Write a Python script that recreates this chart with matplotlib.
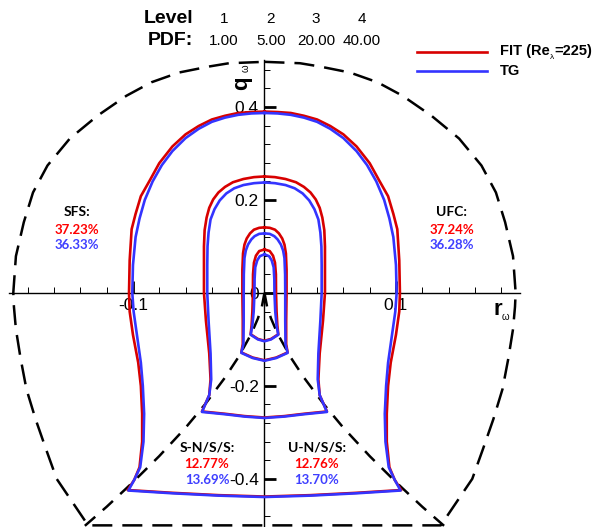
import numpy as np
import matplotlib
matplotlib.use("Agg")
import matplotlib.pyplot as plt
from matplotlib.ticker import FixedLocator, FixedFormatter
from matplotlib.transforms import offset_copy

# right halves of the iso-PDF contours (r_w, q_w), top -> bottom; mirrored below
r1_red = [0, 0.010, 0.020, 0.030, 0.040, 0.050, 0.060, 0.070, 0.080, 0.087, 0.094, 0.098, 0.101,
          0.1025, 0.103, 0.1025, 0.100, 0.096, 0.094, 0.093, 0.093, 0.095, 0.099, 0.104, 0.070, 0.035, 0]
q1_red = [0.390, 0.389, 0.387, 0.381, 0.373, 0.359, 0.341, 0.315, 0.279, 0.243, 0.208, 0.170, 0.137,
          0.070, 0.0, -0.040, -0.090, -0.150, -0.200, -0.260, -0.320, -0.375, -0.402, -0.424, -0.430,
          -0.435, -0.438]
r1_blue = [0, 0.010, 0.020, 0.030, 0.040, 0.050, 0.060, 0.070, 0.078, 0.085, 0.091, 0.095, 0.098,
           0.100, 0.1005, 0.0995, 0.097, 0.094, 0.0925, 0.0915, 0.092, 0.0945, 0.099, 0.1035, 0.070,
           0.035, 0]
q1_blue = [0.387, 0.386, 0.383, 0.377, 0.368, 0.353, 0.333, 0.305, 0.275, 0.240, 0.200, 0.160, 0.120,
           0.060, 0.0, -0.040, -0.090, -0.150, -0.200, -0.260, -0.320, -0.375, -0.402, -0.425, -0.431,
           -0.436, -0.439]

r2_red = [0, 0.008, 0.016, 0.024, 0.030, 0.035, 0.039, 0.042, 0.044, 0.0455, 0.046, 0.046, 0.046,
          0.0445, 0.042, 0.041, 0.042, 0.0475, 0.030, 0.015, 0]
q2_red = [0.2505, 0.249, 0.245, 0.238, 0.228, 0.216, 0.201, 0.183, 0.162, 0.135, 0.100, 0.066, 0.0,
          -0.060, -0.130, -0.186, -0.220, -0.255, -0.260, -0.265, -0.268]
r2_blue = [0, 0.008, 0.016, 0.023, 0.029, 0.034, 0.038, 0.041, 0.0425, 0.0433, 0.0435, 0.0435,
           0.0425, 0.041, 0.0405, 0.042, 0.0475, 0.030, 0.015, 0]
q2_blue = [0.2376, 0.236, 0.232, 0.225, 0.214, 0.199, 0.180, 0.158, 0.130, 0.100, 0.060, 0.0,
           -0.060, -0.130, -0.186, -0.220, -0.256, -0.261, -0.266, -0.269]

r3_red = [0, 0.004, 0.008, 0.011, 0.0135, 0.0152, 0.0163, 0.0168, 0.0168, 0.0165, 0.0165, 0.0176,
          0.009, 0]
q3_red = [0.141, 0.140, 0.136, 0.128, 0.117, 0.104, 0.085, 0.050, 0.0, -0.060, -0.110, -0.128,
          -0.139, -0.145]
r3_blue = [0, 0.004, 0.0075, 0.010, 0.0125, 0.0142, 0.0152, 0.0157, 0.0158, 0.0158, 0.016, 0.0176,
           0.009, 0]
q3_blue = [0.128, 0.127, 0.122, 0.115, 0.104, 0.091, 0.075, 0.040, 0.0, -0.060, -0.110, -0.129,
           -0.140, -0.146]

r4_red = [0, 0.004, 0.0065, 0.008, 0.0087, 0.0088, 0.0092, 0.0098, 0.0105, 0.005, 0]
q4_red = [0.0935, 0.090, 0.080, 0.065, 0.040, 0.0, -0.040, -0.070, -0.089, -0.099, -0.103]
r4_blue = [0, 0.0035, 0.0055, 0.007, 0.0075, 0.0076, 0.0082, 0.0092, 0.0105, 0.005, 0]
q4_blue = [0.083, 0.079, 0.070, 0.055, 0.030, 0.0, -0.040, -0.070, -0.090, -0.100, -0.104]

# outer bound of the invariant map (right half) and the Vieillefosse-type line
bound_r = [0, 0.027, 0.042, 0.065, 0.086, 0.105, 0.127, 0.148, 0.165, 0.176, 0.183, 0.189, 0.191,
           0.1905, 0.189, 0.1855, 0.181, 0.174, 0.166, 0.158, 0.147, 0.136, 0.134]
bound_q = [0.497, 0.494, 0.487, 0.474, 0.453, 0.424, 0.381, 0.332, 0.274, 0.216, 0.152, 0.079, 0.0,
           -0.030, -0.078, -0.140, -0.207, -0.272, -0.337, -0.400, -0.446, -0.492, -0.500]
vline_r = [0, 0.002, 0.005, 0.01, 0.02, 0.03, 0.045, 0.06, 0.08, 0.1, 0.12, 0.137]
vline_q = [0, -0.030, -0.055, -0.088, -0.139, -0.182, -0.239, -0.290, -0.351, -0.407, -0.460, -0.502]

levels = ["1", "2", "3", "4"]
pdf_levels = ["1.00", "5.00", "20.00", "40.00"]

regions = ["SFS:", "UFC:", "S-N/S/S:", "U-N/S/S:"]
frac_fit = ["37.23%", "37.24%", "12.77%", "12.76%"]
frac_tg = ["36.33%", "36.28%", "13.69%", "13.70%"]

RED = "#d80000"
BLUE = "#3434ff"
SANS = "Liberation Sans"


def closed(r, q):
    r = np.asarray(r)
    q = np.asarray(q)
    return np.concatenate([r, -r[::-1]]), np.concatenate([q, q[::-1]])


fig = plt.figure(figsize=(6.01, 5.27), dpi=100)
ax = fig.add_axes([0, 0, 1, 1])
ax.set_xlim(-0.2011, 0.2559)
ax.set_ylim(-0.5035, 0.6300)
ax.patch.set_visible(False)

# axes through the origin, tecplot style
for s in ["top", "right"]:
    ax.spines[s].set_visible(False)
ax.spines["left"].set_position(("data", 0))
ax.spines["bottom"].set_position(("data", 0))
ax.spines["bottom"].set_bounds(-0.1945, 0.1945)
ax.spines["left"].set_bounds(-0.51, 0.5)
for s in ["left", "bottom"]:
    ax.spines[s].set_linewidth(1.0)

ax.xaxis.set_major_locator(FixedLocator([-0.1, 0.1]))
ax.xaxis.set_major_formatter(FixedFormatter(["-0.1", "0.1"]))
ax.xaxis.set_minor_locator(FixedLocator([x for x in np.round(np.arange(-0.18, 0.181, 0.02), 2)
                                         if abs(x) not in (0.1, 0.0)]))
ax.yaxis.set_major_locator(FixedLocator([-0.4, -0.2, 0, 0.2, 0.4]))
ax.yaxis.set_major_formatter(FixedFormatter(["-0.4", "-0.2", "0", "0.2", "0.4"]))
ax.yaxis.set_minor_locator(FixedLocator([y for y in np.round(np.arange(-0.48, 0.481, 0.04), 2)
                                         if abs(y) not in (0.2, 0.4, 0.0)]))
ax.tick_params(which="major", direction="in", length=8.5, width=2.0, labelsize=12.5, pad=4)
ax.tick_params(which="minor", direction="in", length=4.5, width=0.7)
for lab in ax.get_xticklabels() + ax.get_yticklabels():
    lab.set_fontfamily(SANS)

# dashed boundaries
br, bq = closed(bound_r, bound_q)
ax.plot(br, bq, color="black", lw=1.8, dashes=(8, 4), zorder=2)
for sign in (1, -1):
    ax.plot(sign * np.asarray(vline_r), vline_q, color="black", lw=1.8, dashes=(5.5, 4), zorder=2)

# iso-PDF contours
pairs = [(r1_red, q1_red, r1_blue, q1_blue), (r2_red, q2_red, r2_blue, q2_blue),
         (r3_red, q3_red, r3_blue, q3_blue), (r4_red, q4_red, r4_blue, q4_blue)]
for rr, qr, rb, qb in pairs:
    x, y = closed(rr, qr)
    ax.plot(x, y, color=RED, lw=1.9, zorder=3, solid_joinstyle="round")
    x, y = closed(rb, qb)
    ax.plot(x, y, color=BLUE, lw=1.9, zorder=4, solid_joinstyle="round")

# axis titles
ax.text(0.1741, -0.0484, "r", fontsize=16, fontweight="bold", family=SANS, ha="left", va="baseline")
ax.text(0.1829, -0.0527, "\u03c9", fontsize=7, family=SANS, ha="center", va="center")
ax.text(-0.0171, 0.4505, "q", fontsize=16, fontweight="bold", family=SANS, rotation=90,
        ha="center", va="center")
ax.text(-0.0141, 0.4828, "\u03c9", fontsize=7, family=SANS, rotation=90, ha="center", va="center")

# contour level header
ax.text(-0.0544, 0.5796, "Level", fontsize=14, fontweight="bold", family=SANS, ha="right", va="baseline")
ax.text(-0.0544, 0.5333, "PDF:", fontsize=14, fontweight="bold", family=SANS, ha="right", va="baseline")
for xr, lv, pdf in zip([-0.0308, 0.0049, 0.0392, 0.0741], levels, pdf_levels):
    ax.text(xr, 0.5796, lv, fontsize=11, family=SANS, ha="center", va="baseline")
    ax.text(xr, 0.5333, pdf, fontsize=11, family=SANS, ha="center", va="baseline")

# legend: "FIT (Re" + small lambda subscript + "=225)"
ax.plot([0.116, 0.1692], [0.5172, 0.5172], color=RED, lw=1.9)
ax.plot([0.116, 0.1692], [0.4763, 0.4763], color=BLUE, lw=1.9)
t1 = ax.text(0.179, 0.5115, "FIT (Re", fontsize=10.5, fontweight="bold", family=SANS,
             ha="left", va="baseline")
fig.canvas.draw()
w1 = t1.get_window_extent().width * 72 / fig.dpi
t2 = ax.text(0.179, 0.5115, "\u03bb", fontsize=6, family=SANS, ha="left", va="baseline",
             transform=offset_copy(ax.transData, fig=fig, x=w1 + 0.3, y=-3.0, units="points"))
fig.canvas.draw()
w2 = t2.get_window_extent().width * 72 / fig.dpi
ax.text(0.179, 0.5115, "=225)", fontsize=10.5, fontweight="bold", family=SANS, ha="left",
        va="baseline",
        transform=offset_copy(ax.transData, fig=fig, x=w1 + w2 + 0.6, y=0, units="points"))
ax.text(0.179, 0.4763, "TG", fontsize=10.5, fontweight="bold", family=SANS, ha="left", va="center")

# volume fractions of each topology region
label_pos = [(-0.1426, 0.173), (0.1426, 0.173), (-0.0437, -0.332), (0.0399, -0.332)]
for (xr, yq), name, f1, f2 in zip(label_pos, regions, frac_fit, frac_tg):
    ax.text(xr, yq, name, fontsize=10, fontweight="bold", family="Lato", ha="center", va="center")
    ax.text(xr, yq - 0.037, f1, fontsize=9.5, fontweight="bold", family="Lato", color="#ff0000",
            ha="center", va="center")
    ax.text(xr, yq - 0.071, f2, fontsize=9.5, fontweight="bold", family="Lato", color="#3f3fff",
            ha="center", va="center")

fig.savefig("out.png", dpi=100)
